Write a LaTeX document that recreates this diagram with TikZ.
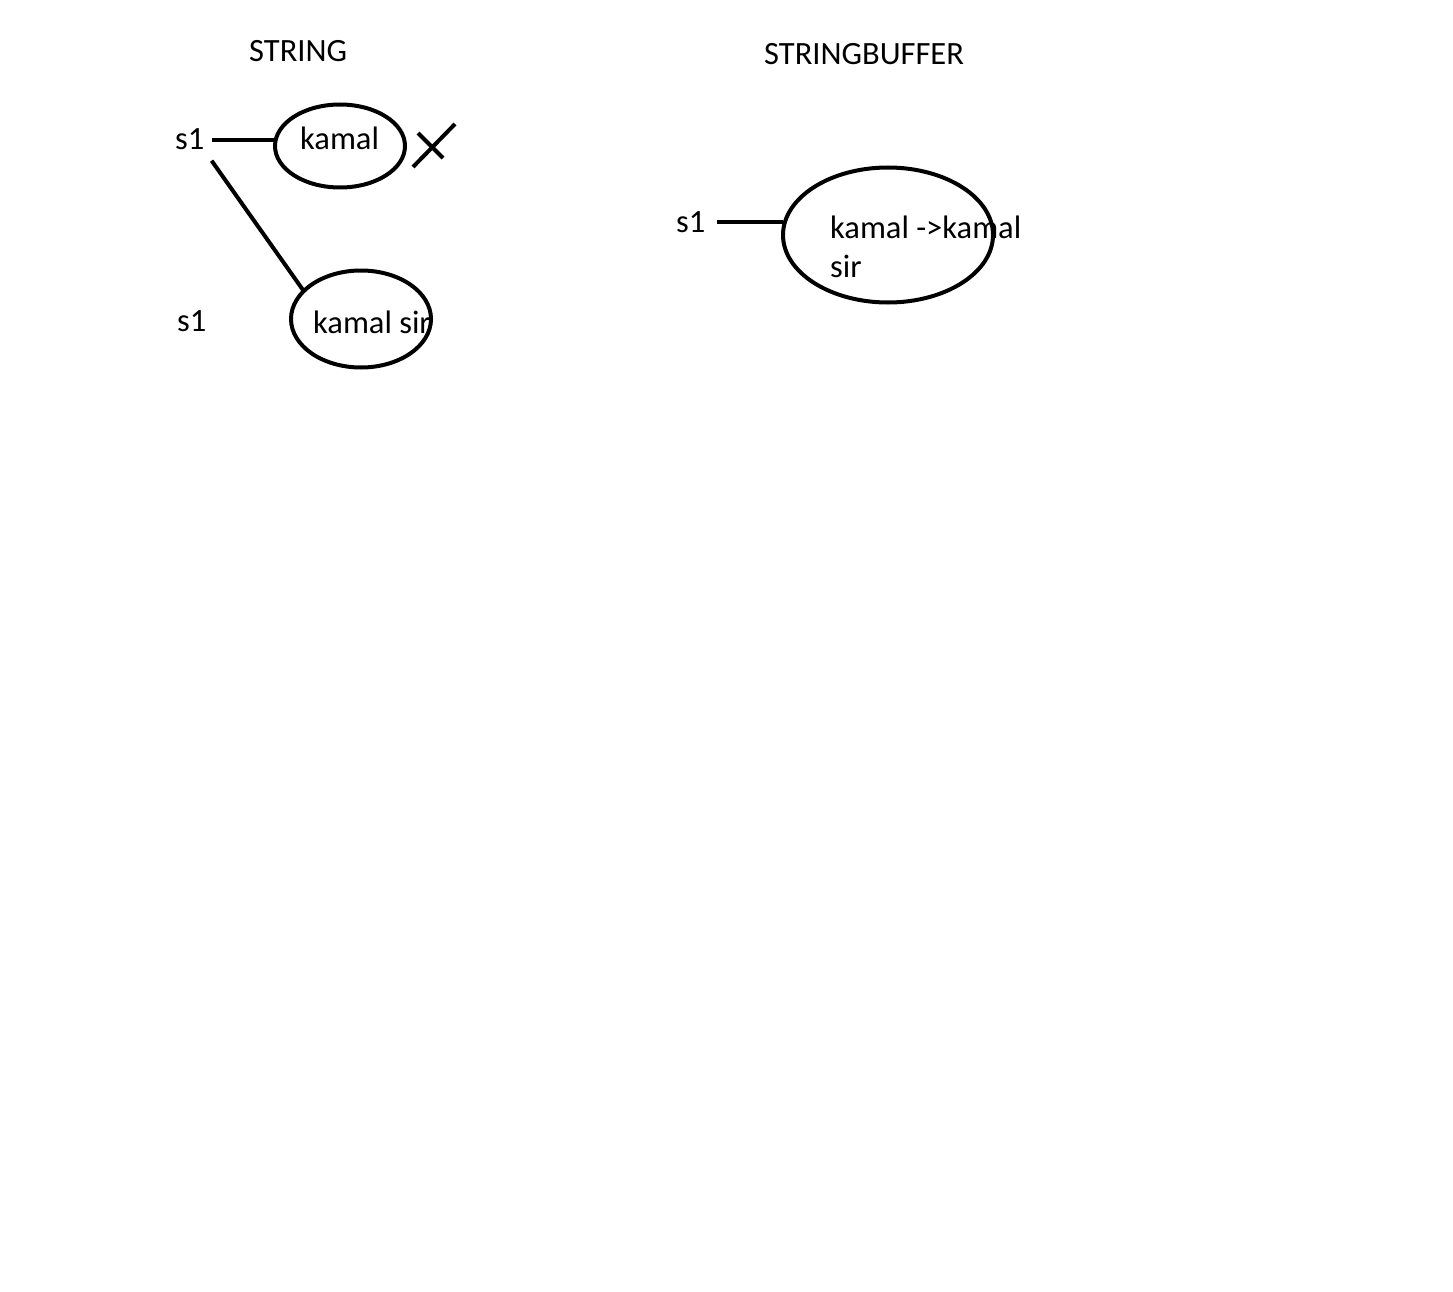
\documentclass[tikz,border=0pt]{standalone}
\usepackage{fontspec}
\setmainfont{Carlito}
\usepackage{tikz}
\usetikzlibrary{shapes.geometric, calc}

\tikzset{
  txt/.style = {anchor = base west, inner sep = 0, font = \fontsize{32.5}{40}\selectfont},
  bub/.style = {draw, ellipse, line width = 4pt, inner sep = 0, outer sep = 0},
  stroke/.style = {line width = 4pt}
}

\begin{document}
\begin{tikzpicture}[x = 1pt, y = -1pt]
\useasboundingbox (0, 0) rectangle (1453, 1292);

\node[txt] (titleA) at (249, 62) {STRING};
\node[txt] (titleB) at (764, 65) {STRINGBUFFER};

\node[bub, minimum width = 130pt, minimum height = 83pt] (bubA) at (340, 146) {};
\node[bub, minimum width = 140pt, minimum height = 97pt] (bubB) at (361, 319) {};
\node[bub, minimum width = 210pt, minimum height = 135pt] (bubC) at (888, 235) {};

\node[txt] (s1a) at (175, 150) {s1};
\node[txt] (s1b) at (177, 331) {s1};
\node[txt] (s1c) at (676, 232) {s1};

\node[txt] (valA) at (300, 150) {kamal};
\node[txt] (valB) at (313, 333) {kamal sir};
\node[txt] (valC) at (830, 238) {kamal ->kamal};
\node[txt] (valD) at (830, 277) {sir};

\draw[stroke] ([xshift = 7pt]s1a.east) -- (s1a.east -| bubA.west);
\draw[stroke] ([xshift = 7pt, yshift = -21pt]s1a.east) -- (bubB.154);
\draw[stroke] ([xshift = 11pt]s1c.east) -- (s1c.east -| bubC.west);

% crossed out
\draw[stroke] (413, 167) -- (455, 124);
\draw[stroke] (418, 133) -- (443, 158);
\end{tikzpicture}
\end{document}
